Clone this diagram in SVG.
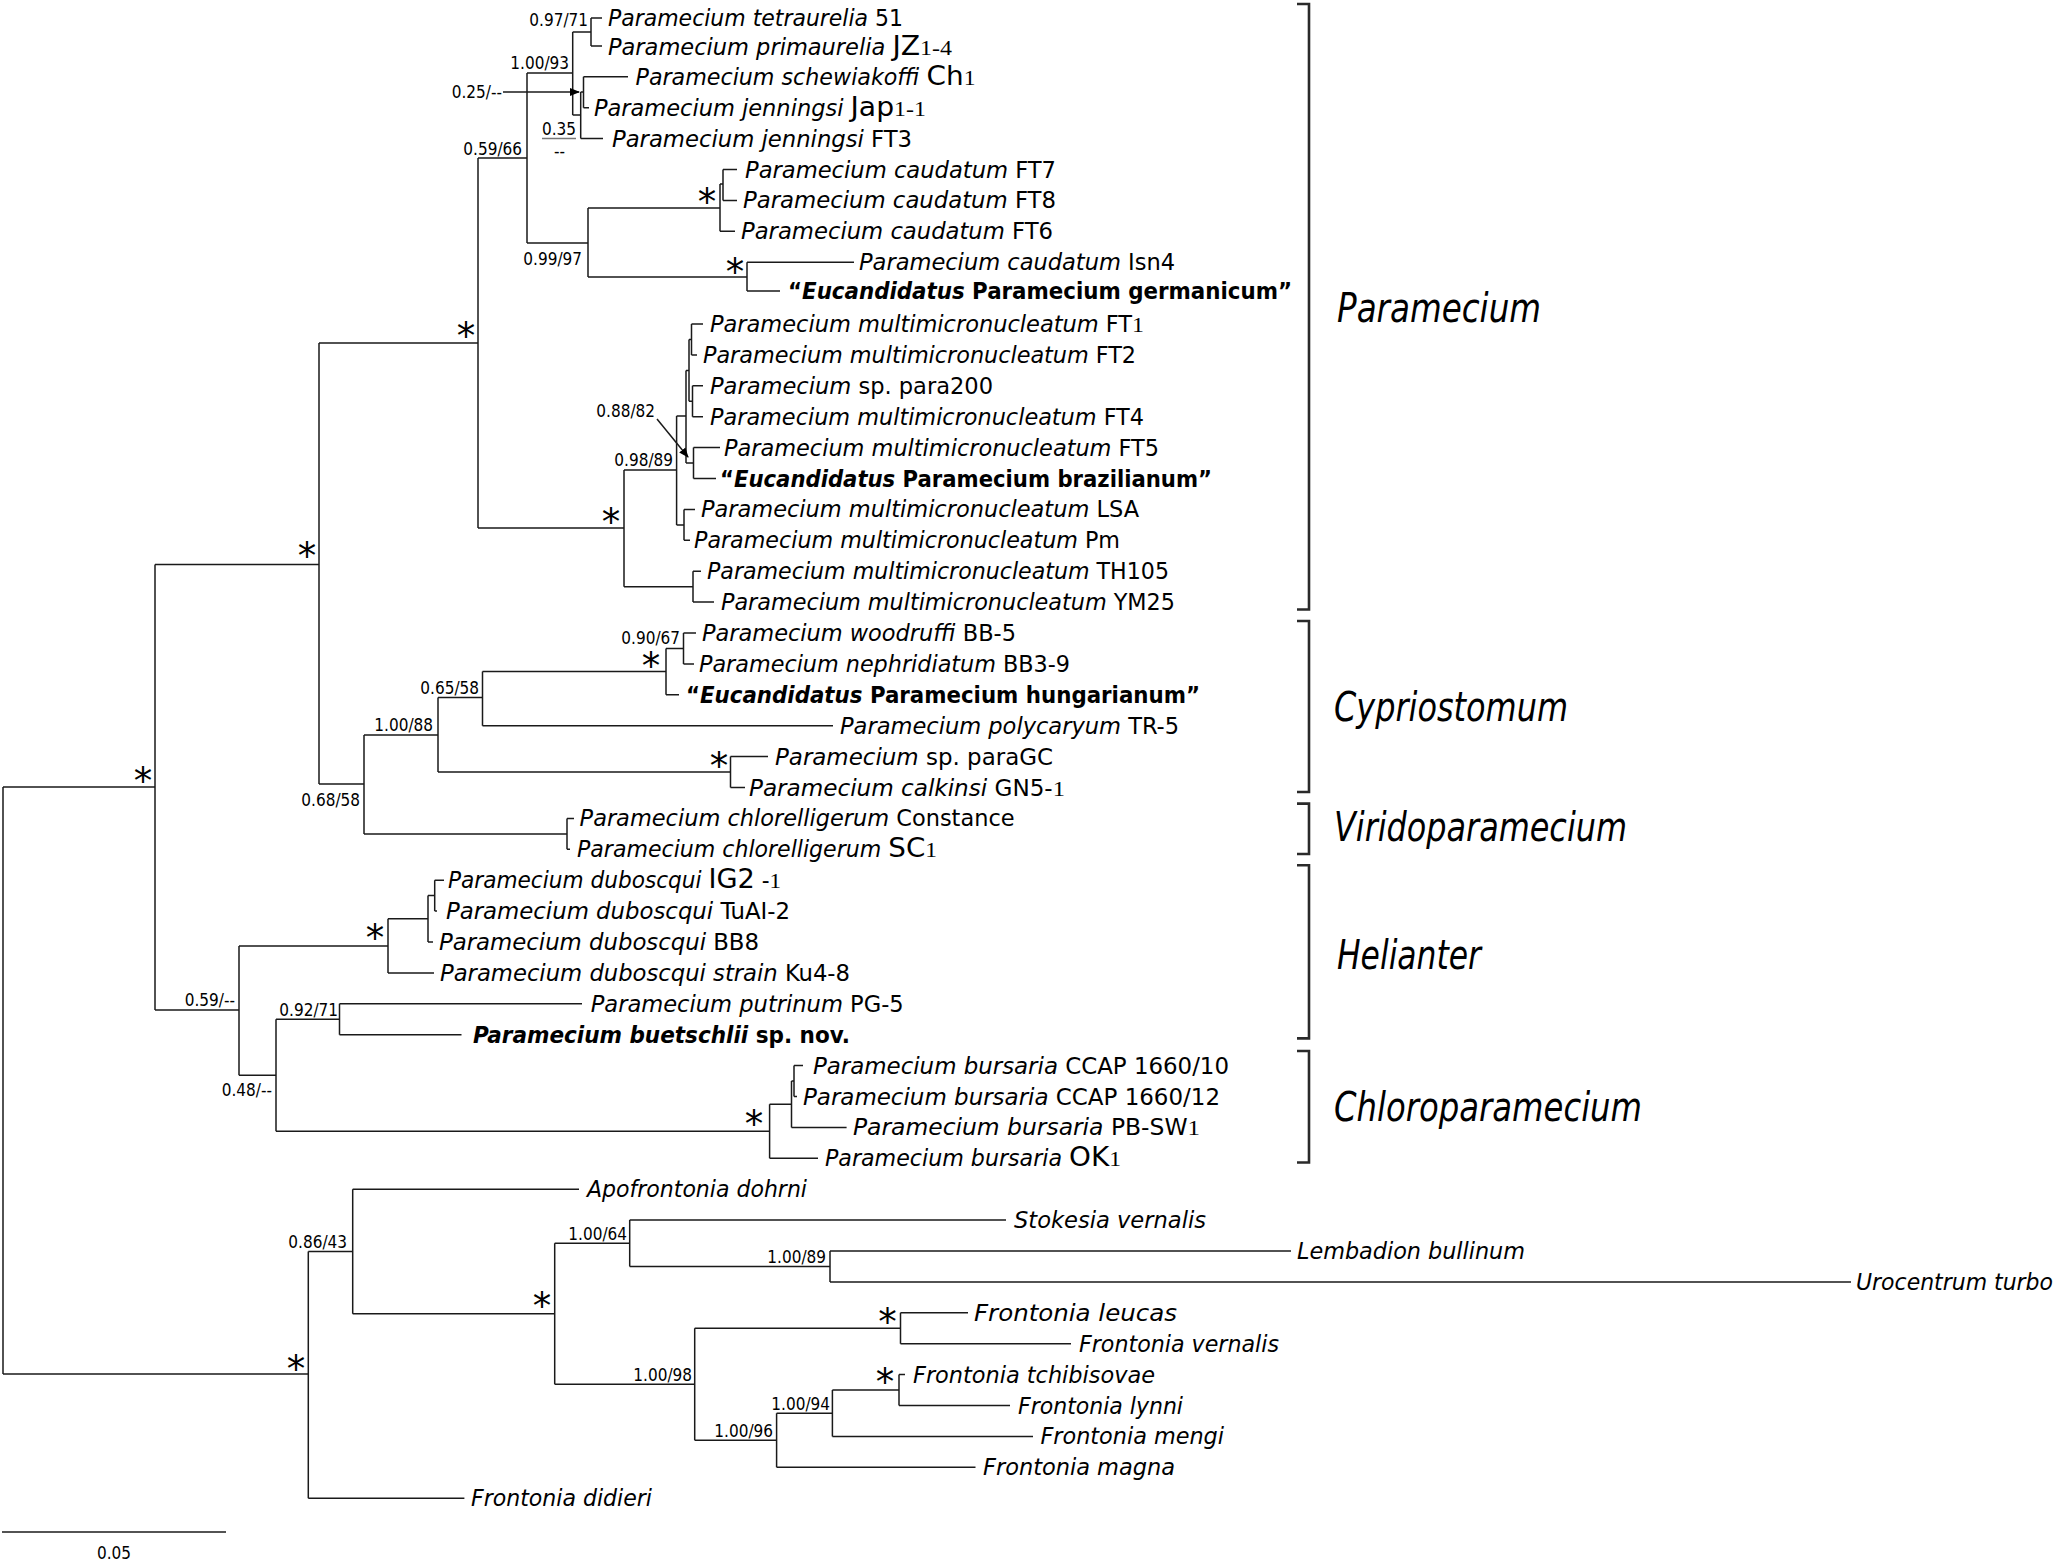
<svg xmlns="http://www.w3.org/2000/svg" width="2057" height="1567" viewBox="0 0 2057 1567">
<defs>
<style>
.br{fill:none;stroke:#1a1a1a;stroke-width:1.5}
.bk{fill:none;stroke:#2a2a2a;stroke-width:2.6}
.t{font-family:"DejaVu Sans Condensed","DejaVu Sans",sans-serif;font-size:23px;fill:#000}
.i{font-style:italic}
.b{font-weight:bold}
.big{font-family:"DejaVu Sans",sans-serif;font-size:26px;font-style:normal}
.one{font-family:"Liberation Serif",serif;font-size:22px;font-style:normal}
.s{font-family:"DejaVu Sans Condensed","DejaVu Sans",sans-serif;font-size:17px;fill:#000;text-anchor:end}
.st{font-family:"DejaVu Sans",sans-serif;font-size:37px;fill:#000;text-anchor:middle}
.cl{font-family:"DejaVu Sans",sans-serif;font-size:40px;font-style:italic;fill:#000}
</style>
<marker id="ah" viewBox="0 0 10 10" refX="9" refY="5" markerWidth="10" markerHeight="10" markerUnits="userSpaceOnUse" orient="auto"><path d="M0,1 L10,5 L0,9 z" fill="#000"/></marker>
</defs>
<rect width="2057" height="1567" fill="#fff"/>

<g id="connectors">
<path class="br" d="M3,787 V1374 M3,787 H155 M3,1374 H308.3"/>
<path class="br" d="M155,564.5 V1010 M155,564.5 H319 M155,1010 H239"/>
<path class="br" d="M319,343 V784 M319,343 H478 M319,784 H364"/>
<path class="br" d="M478,158 V528 M478,158 H527 M478,528 H624"/>
<path class="br" d="M527,73 V243 M527,73 H572.7 M527,243 H588"/>
<path class="br" d="M572.7,32 V115 M572.7,32 H591 M572.7,115 H580.7"/>
<path class="br" d="M591,18 V46 M591,18 H602 M591,46 H602"/>
<path class="br" d="M580.7,92 V138.6 M580.7,92 H583.5 M580.7,138.6 H603"/>
<path class="br" d="M583.5,76.8 V107.7 M583.5,76.8 H628 M583.5,107.7 H589"/>
<path class="br" d="M588,208 V277 M588,208 H720 M588,277 H747"/>
<path class="br" d="M720,184 V231.3 M720,184 H723 M720,231.3 H735"/>
<path class="br" d="M723,169.5 V200.4 M723,169.5 H737 M723,200.4 H737"/>
<path class="br" d="M747,262.2 V291 M747,262.2 H854 M747,291 H780"/>
<path class="br" d="M624,470 V586.7 M624,470 H676.6 M624,586.7 H693"/>
<path class="br" d="M676.6,416 V524.9 M676.6,416 H686 M676.6,524.9 H684"/>
<path class="br" d="M686,370.4 V463 M686,370.4 H689 M686,463 H693.5"/>
<path class="br" d="M689,339.5 V401.3 M689,339.5 H691.5 M689,401.3 H692.5"/>
<path class="br" d="M691.5,324 V354.9 M691.5,324 H703 M691.5,354.9 H697"/>
<path class="br" d="M692.5,385.8 V416.7 M692.5,385.8 H703 M692.5,416.7 H703"/>
<path class="br" d="M693.5,447.6 V478.5 M693.5,447.6 H720 M693.5,478.5 H716"/>
<path class="br" d="M684,509.4 V540.3 M684,509.4 H695 M684,540.3 H690"/>
<path class="br" d="M693,571.2 V602.1 M693,571.2 H701 M693,602.1 H714"/>
<path class="br" d="M364,735 V833.9 M364,735 H438 M364,833.9 H567"/>
<path class="br" d="M438,697.5 V772 M438,697.5 H482.5 M438,772 H730.5"/>
<path class="br" d="M482.5,671.6 V725.7 M482.5,671.6 H666 M482.5,725.7 H833"/>
<path class="br" d="M666,648.5 V694.8 M666,648.5 H683.5 M666,694.8 H679"/>
<path class="br" d="M683.5,633 V663.9 M683.5,633 H696 M683.5,663.9 H694"/>
<path class="br" d="M730.5,756.6 V787.5 M730.5,756.6 H768 M730.5,787.5 H745"/>
<path class="br" d="M567,818.4 V849.3 M567,818.4 H574 M567,849.3 H570"/>
<path class="br" d="M239,945.9 V1075.2 M239,945.9 H388 M239,1075.2 H276"/>
<path class="br" d="M388,918.8 V972.9 M388,918.8 H428 M388,972.9 H434"/>
<path class="br" d="M428,895.6 V942 M428,895.6 H434.7 M428,942 H433"/>
<path class="br" d="M434.7,880.2 V911.1 M434.7,880.2 H444 M434.7,911.1 H437"/>
<path class="br" d="M276,1019.3 V1131.2 M276,1019.3 H339.5 M276,1131.2 H769.6"/>
<path class="br" d="M339.5,1003.8 V1034.7 M339.5,1003.8 H582 M339.5,1034.7 H461.5"/>
<path class="br" d="M769.6,1104.2 V1158.3 M769.6,1104.2 H791.5 M769.6,1158.3 H818"/>
<path class="br" d="M791.5,1081 V1127.4 M791.5,1081 H794 M791.5,1127.4 H846.6"/>
<path class="br" d="M794,1065.6 V1096.5 M794,1065.6 H803 M794,1096.5 H797"/>
<path class="br" d="M308.3,1251.5 V1498.2 M308.3,1251.5 H352.7 M308.3,1498.2 H464.4"/>
<path class="br" d="M352.7,1189.2 V1313.8 M352.7,1189.2 H579 M352.7,1313.8 H554.7"/>
<path class="br" d="M554.7,1243.3 V1384.2 M554.7,1243.3 H629.7 M554.7,1384.2 H694.7"/>
<path class="br" d="M629.7,1220.1 V1266.5 M629.7,1220.1 H1006 M629.7,1266.5 H830"/>
<path class="br" d="M830,1251 V1281.9 M830,1251 H1291 M830,1281.9 H1851"/>
<path class="br" d="M694.7,1328.3 V1440.2 M694.7,1328.3 H900.5 M694.7,1440.2 H776.6"/>
<path class="br" d="M900.5,1312.8 V1343.7 M900.5,1312.8 H968 M900.5,1343.7 H1071"/>
<path class="br" d="M776.6,1413.2 V1467.3 M776.6,1413.2 H832.4 M776.6,1467.3 H975.5"/>
<path class="br" d="M832.4,1390 V1436.4 M832.4,1390 H899 M832.4,1436.4 H1033"/>
<path class="br" d="M899,1374.6 V1405.5 M899,1374.6 H905 M899,1405.5 H1010"/>
<path class="br" d="M503,92 H579" marker-end="url(#ah)"/>
<path class="br" d="M657,419 L688,457" marker-end="url(#ah)"/>
<path d="M542,138.5 H576" stroke="#777" stroke-width="1.5"/>
<path class="br" d="M2,1532 H226"/>
</g>

<g id="support">
<text class="s" x="588" y="26">0.97/71</text>
<text class="s" x="569" y="69">1.00/93</text>
<text class="s" x="502" y="98">0.25/--</text>
<text class="s" x="576" y="135">0.35</text>
<text class="s" x="565" y="157">--</text>
<text class="s" x="522" y="155">0.59/66</text>
<text class="s" x="582" y="265">0.99/97</text>
<text class="s" x="655" y="417">0.88/82</text>
<text class="s" x="673" y="466">0.98/89</text>
<text class="s" x="680" y="644">0.90/67</text>
<text class="s" x="479" y="694">0.65/58</text>
<text class="s" x="433" y="731">1.00/88</text>
<text class="s" x="360" y="806">0.68/58</text>
<text class="s" x="235" y="1006">0.59/--</text>
<text class="s" x="338" y="1016">0.92/71</text>
<text class="s" x="272" y="1096">0.48/--</text>
<text class="s" x="347" y="1248">0.86/43</text>
<text class="s" x="627" y="1240">1.00/64</text>
<text class="s" x="826" y="1263">1.00/89</text>
<text class="s" x="692" y="1381">1.00/98</text>
<text class="s" x="830" y="1410">1.00/94</text>
<text class="s" x="773" y="1437">1.00/96</text>
<text class="s" x="131" y="1559">0.05</text>
</g>

<g id="stars">
<text class="st" x="143" y="794">*</text>
<text class="st" x="307" y="569">*</text>
<text class="st" x="466" y="349">*</text>
<text class="st" x="707" y="215">*</text>
<text class="st" x="735" y="285">*</text>
<text class="st" x="611" y="535">*</text>
<text class="st" x="651" y="679">*</text>
<text class="st" x="719" y="779">*</text>
<text class="st" x="375" y="951">*</text>
<text class="st" x="754" y="1137">*</text>
<text class="st" x="296" y="1382">*</text>
<text class="st" x="542" y="1319">*</text>
<text class="st" x="887.5" y="1335">*</text>
<text class="st" x="885" y="1395">*</text>
</g>

<g id="taxa">
<g id="n-tetraurelia"><text class="t" x="608" y="26" textLength="295" lengthAdjust="spacingAndGlyphs"><tspan class="i">Paramecium tetraurelia</tspan> 51</text></g>
<g id="n-primaurelia"><text class="t" x="608" y="54.5" textLength="344" lengthAdjust="spacingAndGlyphs"><tspan class="i">Paramecium primaurelia</tspan> <tspan class="big">JZ</tspan><tspan class="one">1-4</tspan></text></g>
<g id="n-schewiakoffi"><text class="t" x="635.5" y="84.8" textLength="340" lengthAdjust="spacingAndGlyphs"><tspan class="i">Paramecium schewiakoffi</tspan> <tspan class="big">Ch</tspan><tspan class="one">1</tspan></text></g>
<g id="n-jenningsi-jap"><text class="t" x="594" y="115.7" textLength="332" lengthAdjust="spacingAndGlyphs"><tspan class="i">Paramecium jenningsi</tspan> <tspan class="big">Jap</tspan><tspan class="one">1-1</tspan></text></g>
<g id="n-jenningsi-ft3"><text class="t" x="612" y="146.6" textLength="300" lengthAdjust="spacingAndGlyphs"><tspan class="i">Paramecium jenningsi</tspan> FT3</text></g>
<g id="n-caudatum-ft7"><text class="t" x="745" y="177.5" textLength="311" lengthAdjust="spacingAndGlyphs"><tspan class="i">Paramecium caudatum</tspan> FT7</text></g>
<g id="n-caudatum-ft8"><text class="t" x="743" y="208.4" textLength="313" lengthAdjust="spacingAndGlyphs"><tspan class="i">Paramecium caudatum</tspan> FT8</text></g>
<g id="n-caudatum-ft6"><text class="t" x="741" y="239.3" textLength="312" lengthAdjust="spacingAndGlyphs"><tspan class="i">Paramecium caudatum</tspan> FT6</text></g>
<g id="n-caudatum-isn4"><text class="t" x="859" y="270.2" textLength="316" lengthAdjust="spacingAndGlyphs"><tspan class="i">Paramecium caudatum</tspan> Isn4</text></g>
<g id="n-germanicum"><text class="t b" x="788" y="299" textLength="504" lengthAdjust="spacingAndGlyphs">“<tspan class="i">Eucandidatus</tspan> Paramecium germanicum”</text></g>
<g id="n-mm-ft1"><text class="t" x="710" y="332" textLength="434" lengthAdjust="spacingAndGlyphs"><tspan class="i">Paramecium multimicronucleatum</tspan> FT<tspan class="one">1</tspan></text></g>
<g id="n-mm-ft2"><text class="t" x="703" y="362.9" textLength="433" lengthAdjust="spacingAndGlyphs"><tspan class="i">Paramecium multimicronucleatum</tspan> FT2</text></g>
<g id="n-para200"><text class="t" x="710" y="393.8" textLength="283" lengthAdjust="spacingAndGlyphs"><tspan class="i">Paramecium</tspan> sp. para200</text></g>
<g id="n-mm-ft4"><text class="t" x="710" y="424.7" textLength="434" lengthAdjust="spacingAndGlyphs"><tspan class="i">Paramecium multimicronucleatum</tspan> FT4</text></g>
<g id="n-mm-ft5"><text class="t" x="724" y="455.6" textLength="435" lengthAdjust="spacingAndGlyphs"><tspan class="i">Paramecium multimicronucleatum</tspan> FT5</text></g>
<g id="n-brazilianum"><text class="t b" x="720" y="486.5" textLength="492" lengthAdjust="spacingAndGlyphs">“<tspan class="i">Eucandidatus</tspan> Paramecium brazilianum”</text></g>
<g id="n-mm-lsa"><text class="t" x="701" y="517.4" textLength="438" lengthAdjust="spacingAndGlyphs"><tspan class="i">Paramecium multimicronucleatum</tspan> LSA</text></g>
<g id="n-mm-pm"><text class="t" x="694" y="548.3" textLength="426" lengthAdjust="spacingAndGlyphs"><tspan class="i">Paramecium multimicronucleatum</tspan> Pm</text></g>
<g id="n-mm-th105"><text class="t" x="707" y="579.2" textLength="462" lengthAdjust="spacingAndGlyphs"><tspan class="i">Paramecium multimicronucleatum</tspan> TH105</text></g>
<g id="n-mm-ym25"><text class="t" x="721" y="610.1" textLength="454" lengthAdjust="spacingAndGlyphs"><tspan class="i">Paramecium multimicronucleatum</tspan> YM25</text></g>
<g id="n-woodruffi"><text class="t" x="702" y="641" textLength="314" lengthAdjust="spacingAndGlyphs"><tspan class="i">Paramecium woodruffi</tspan> BB-5</text></g>
<g id="n-nephridiatum"><text class="t" x="699" y="671.9" textLength="371" lengthAdjust="spacingAndGlyphs"><tspan class="i">Paramecium nephridiatum</tspan> BB3-9</text></g>
<g id="n-hungarianum"><text class="t b" x="686" y="702.8" textLength="514" lengthAdjust="spacingAndGlyphs">“<tspan class="i">Eucandidatus</tspan> Paramecium hungarianum”</text></g>
<g id="n-polycaryum"><text class="t" x="840" y="733.7" textLength="339" lengthAdjust="spacingAndGlyphs"><tspan class="i">Paramecium polycaryum</tspan> TR-5</text></g>
<g id="n-paragc"><text class="t" x="775" y="764.6" textLength="278" lengthAdjust="spacingAndGlyphs"><tspan class="i">Paramecium</tspan> sp. paraGC</text></g>
<g id="n-calkinsi"><text class="t" x="749" y="795.5" textLength="316" lengthAdjust="spacingAndGlyphs"><tspan class="i">Paramecium calkinsi</tspan> GN5-<tspan class="one">1</tspan></text></g>
<g id="n-chlor-constance"><text class="t" x="579.6" y="826.4" textLength="435" lengthAdjust="spacingAndGlyphs"><tspan class="i">Paramecium chlorelligerum</tspan> Constance</text></g>
<g id="n-chlor-sc1"><text class="t" x="577" y="857.3" textLength="360" lengthAdjust="spacingAndGlyphs"><tspan class="i">Paramecium chlorelligerum</tspan> <tspan class="big">SC</tspan><tspan class="one">1</tspan></text></g>
<g id="n-dub-ig2"><text class="t" x="448" y="888.2" textLength="333" lengthAdjust="spacingAndGlyphs"><tspan class="i">Paramecium duboscqui</tspan> <tspan class="big">IG2</tspan> -<tspan class="one">1</tspan></text></g>
<g id="n-dub-tuai"><text class="t" x="446" y="919.1" textLength="344" lengthAdjust="spacingAndGlyphs"><tspan class="i">Paramecium duboscqui</tspan> TuAI-2</text></g>
<g id="n-dub-bb8"><text class="t" x="439" y="950" textLength="320" lengthAdjust="spacingAndGlyphs"><tspan class="i">Paramecium duboscqui</tspan> BB8</text></g>
<g id="n-dub-ku"><text class="t" x="440" y="980.9" textLength="410" lengthAdjust="spacingAndGlyphs"><tspan class="i">Paramecium duboscqui strain</tspan> Ku4-8</text></g>
<g id="n-putrinum"><text class="t" x="590.7" y="1011.8" textLength="313" lengthAdjust="spacingAndGlyphs"><tspan class="i">Paramecium putrinum</tspan> PG-5</text></g>
<g id="n-buetschlii"><text class="t b" x="473" y="1042.7" textLength="377" lengthAdjust="spacingAndGlyphs"><tspan class="i">Paramecium buetschlii</tspan> sp. nov.</text></g>
<g id="n-burs-10"><text class="t" x="813" y="1073.6" textLength="416" lengthAdjust="spacingAndGlyphs"><tspan class="i">Paramecium bursaria</tspan> CCAP 1660/10</text></g>
<g id="n-burs-12"><text class="t" x="803" y="1104.5" textLength="417" lengthAdjust="spacingAndGlyphs"><tspan class="i">Paramecium bursaria</tspan> CCAP 1660/12</text></g>
<g id="n-burs-pbsw"><text class="t" x="853" y="1135.4" textLength="347" lengthAdjust="spacingAndGlyphs"><tspan class="i">Paramecium bursaria</tspan> PB-SW<tspan class="one">1</tspan></text></g>
<g id="n-burs-ok1"><text class="t" x="825" y="1166.3" textLength="296" lengthAdjust="spacingAndGlyphs"><tspan class="i">Paramecium bursaria</tspan> <tspan class="big">OK</tspan><tspan class="one">1</tspan></text></g>
<g id="n-apofrontonia"><text class="t i" x="587" y="1197.2" textLength="220" lengthAdjust="spacingAndGlyphs">Apofrontonia dohrni</text></g>
<g id="n-stokesia"><text class="t i" x="1014" y="1228.1" textLength="192" lengthAdjust="spacingAndGlyphs">Stokesia vernalis</text></g>
<g id="n-lembadion"><text class="t i" x="1297" y="1259" textLength="228" lengthAdjust="spacingAndGlyphs">Lembadion bullinum</text></g>
<g id="n-urocentrum"><text class="t i" x="1856" y="1289.9" textLength="197" lengthAdjust="spacingAndGlyphs">Urocentrum turbo</text></g>
<g id="n-leucas"><text class="t i" x="974" y="1320.8" textLength="203" lengthAdjust="spacingAndGlyphs">Frontonia leucas</text></g>
<g id="n-fvernalis"><text class="t i" x="1079" y="1351.7" textLength="200" lengthAdjust="spacingAndGlyphs">Frontonia vernalis</text></g>
<g id="n-tchibisovae"><text class="t i" x="913" y="1382.6" textLength="242" lengthAdjust="spacingAndGlyphs">Frontonia tchibisovae</text></g>
<g id="n-lynni"><text class="t i" x="1018" y="1413.5" textLength="165" lengthAdjust="spacingAndGlyphs">Frontonia lynni</text></g>
<g id="n-mengi"><text class="t i" x="1040.5" y="1444.4" textLength="183.5" lengthAdjust="spacingAndGlyphs">Frontonia mengi</text></g>
<g id="n-magna"><text class="t i" x="983" y="1475.3" textLength="192" lengthAdjust="spacingAndGlyphs">Frontonia magna</text></g>
<g id="n-didieri"><text class="t i" x="471" y="1506.2" textLength="181" lengthAdjust="spacingAndGlyphs">Frontonia didieri</text></g>
</g>

<g id="clades">
<path class="bk" d="M1297,4 H1309 V609.5 H1297"/>
<path class="bk" d="M1297,621 H1309 V792 H1297"/>
<path class="bk" d="M1297,803.6 H1309 V854 H1297"/>
<path class="bk" d="M1297,865.3 H1309 V1038.4 H1297"/>
<path class="bk" d="M1297,1051 H1309 V1162.5 H1297"/>
<text class="cl" x="1337" y="322" textLength="204" lengthAdjust="spacingAndGlyphs">Paramecium</text>
<text class="cl" x="1334" y="721" textLength="234" lengthAdjust="spacingAndGlyphs">Cypriostomum</text>
<text class="cl" x="1334" y="841" textLength="293" lengthAdjust="spacingAndGlyphs">Viridoparamecium</text>
<text class="cl" x="1337" y="969" textLength="144" lengthAdjust="spacingAndGlyphs">Helianter</text>
<text class="cl" x="1334" y="1121" textLength="308" lengthAdjust="spacingAndGlyphs">Chloroparamecium</text>
</g>
</svg>
